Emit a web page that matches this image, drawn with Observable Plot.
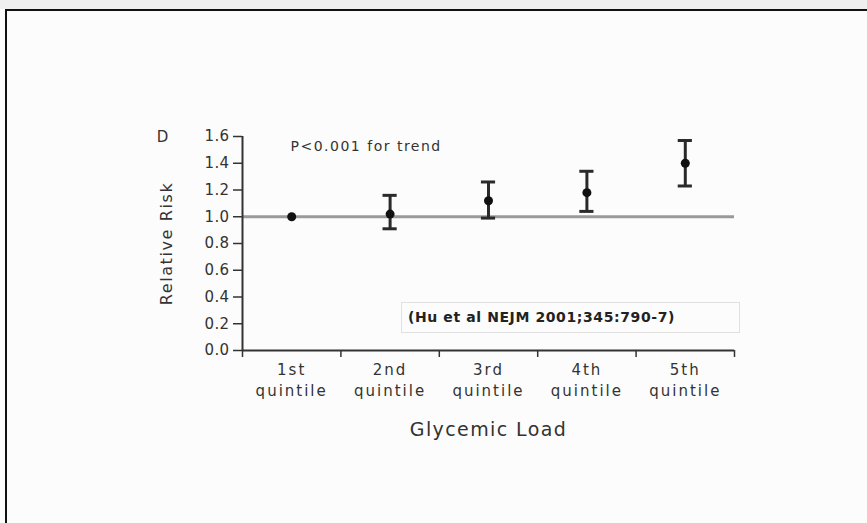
<!DOCTYPE html>
<html><head><meta charset="utf-8">
<script src="https://cdn.jsdelivr.net/npm/d3@7"></script>
<script src="https://cdn.jsdelivr.net/npm/@observablehq/plot@0.6"></script>
<style>
body{margin:0;background:#fcfcfc;}
#wrap{position:relative;width:867px;height:523px;overflow:hidden;background:#fcfcfc;font-family:"DejaVu Sans",sans-serif;}
#topstrip{position:absolute;left:0;top:0;width:867px;height:9px;background:#efefef;}
#frame{position:absolute;left:5px;top:9px;width:900px;height:600px;border-top:2px solid #111;border-left:2px solid #111;}
#chart{position:absolute;left:0;top:0;}
#cite{position:absolute;left:401px;top:302px;width:331px;height:29px;border:1px solid #e0e0e0;padding-left:6px;
  font-family:"DejaVu Sans",sans-serif;font-weight:bold;font-size:14px;line-height:29px;color:#222;letter-spacing:0.6px;white-space:nowrap;}
#chart g[aria-label="x-axis tick label"] text{letter-spacing:2px;}
#chart g[aria-label="y-axis tick label"] text{letter-spacing:0.4px;}
#chart g[aria-description="xtitle"] text{letter-spacing:1.4px;}
#chart g[aria-description="ytitle"] text{letter-spacing:1.6px;}
#chart g[aria-description="ptext"] text{letter-spacing:1.5px;}
</style>
</head><body>
<div id="wrap">
  <div id="topstrip"></div>
  <div id="frame"></div>
  <div id="chart"></div>
  <div id="cite"></div>
</div>
<script>
const categories = ["1st\nquintile", "2nd\nquintile", "3rd\nquintile", "4th\nquintile", "5th\nquintile"];
const relativeRisk = [1.00, 1.02, 1.12, 1.18, 1.40];
const lowerCI = [null, 0.91, 0.99, 1.04, 1.23];
const upperCI = [null, 1.16, 1.26, 1.34, 1.57];
const yTicks = [0, 0.2, 0.4, 0.6, 0.8, 1.0, 1.2, 1.4, 1.6];
const referenceValue = [1.0];
const panelLetter = "D";
const trendText = "P<0.001 for trend";
const yTitle = "Relative Risk";
const xTitle = "Glycemic Load";
const citation = "(Hu et al NEJM 2001;345:790-7)";

const data = categories.map((c, i) => ({label: c, pos: i + 0.5, rr: relativeRisk[i], lo: lowerCI[i], hi: upperCI[i]}));
const errs = data.filter(d => d.lo != null);
const boundaries = d3.range(categories.length + 1);
const centers = data.map(d => d.pos);
const cap = 0.072;

document.getElementById("cite").textContent = citation;

const chart = Plot.plot({
  width: 867, height: 523,
  marginLeft: 242, marginRight: 133, marginTop: 136, marginBottom: 173,
  x: {domain: [0, categories.length]},
  y: {domain: [0, 1.6]},
  style: {background: "transparent", fontFamily: "'DejaVu Sans', sans-serif", color: "#333", overflow: "visible"},
  marks: [
    Plot.ruleY(referenceValue, {stroke: "#9a9a9a", strokeWidth: 3}),
    Plot.ruleX([0], {stroke: "#333", strokeWidth: 2}),
    Plot.ruleY([0], {stroke: "#333", strokeWidth: 2}),
    Plot.axisY({ticks: yTicks, tickFormat: d3.format(".1f"), tickSize: 9, tickPadding: 4, fontSize: 15, label: null, strokeWidth: 1.5}),
    Plot.axisX({ticks: boundaries, tickFormat: () => "", tickSize: 7, label: null, strokeWidth: 1.5}),
    Plot.axisX({ticks: centers, tickFormat: d => categories[Math.floor(d)], tickSize: 0, tickPadding: 10, fontSize: 15, lineHeight: 1.4, label: null}),
    Plot.ruleX(errs, {x: "pos", y1: "lo", y2: "hi", stroke: "#2a2a2a", strokeWidth: 3}),
    Plot.ruleY(errs, {y: "hi", x1: d => d.pos - cap, x2: d => d.pos + cap, stroke: "#2a2a2a", strokeWidth: 3}),
    Plot.ruleY(errs, {y: "lo", x1: d => d.pos - cap, x2: d => d.pos + cap, stroke: "#2a2a2a", strokeWidth: 3}),
    Plot.dot(data, {x: "pos", y: "rr", r: 4.5, fill: "#111", stroke: null}),
    Plot.text([panelLetter], {frameAnchor: "top-left", dx: -80, dy: 1, fontSize: 15, fill: "#333", textAnchor: "middle", lineAnchor: "middle"}),
    Plot.text([trendText], {frameAnchor: "top-left", dx: 48, dy: 10, fontSize: 14, fill: "#333", textAnchor: "start", lineAnchor: "middle", ariaDescription: "ptext"}),
    Plot.text([yTitle], {frameAnchor: "left", dx: -76, rotate: -90, fontSize: 16, fill: "#333", textAnchor: "middle", lineAnchor: "middle", ariaDescription: "ytitle"}),
    Plot.text([xTitle], {frameAnchor: "bottom", dy: 79, fontSize: 19, fill: "#333", textAnchor: "middle", lineAnchor: "middle", ariaDescription: "xtitle"})
  ]
});
document.getElementById("chart").appendChild(chart);
</script>
</body></html>
